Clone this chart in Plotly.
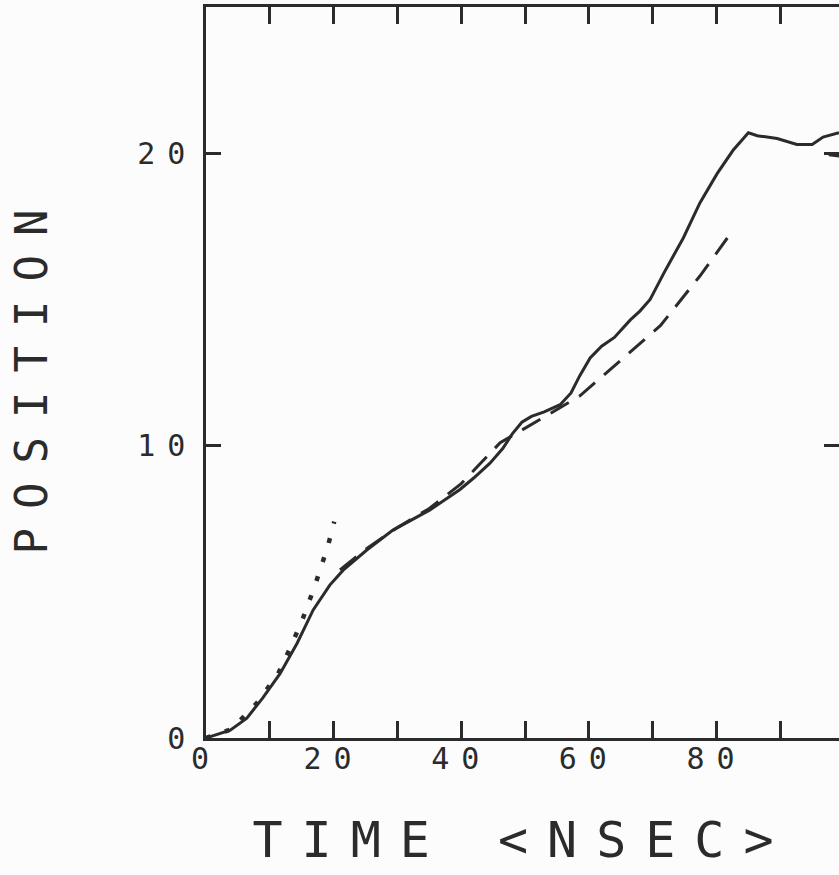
import plotly.graph_objects as go

# Solid curve (time in ns, position)
solid_t = [0, 3.8, 6.4, 8.9, 11.6, 14.3, 16.8, 19.4, 21.5, 25.2, 29.3, 35.1, 39.8, 42.0,
           44.5, 46.5, 48.0, 49.5, 51.0, 53.0, 55.5, 57.2, 58.6, 60.2, 62.0, 64.0, 66.5,
           68.0, 69.6, 72.0, 74.8, 77.4, 80.1, 82.6, 85.0, 86.4, 89.5, 92.6, 95.0, 96.7, 99.2]
solid_y = [0, 0.27, 0.68, 1.37, 2.2, 3.25, 4.38, 5.23, 5.74, 6.43, 7.11, 7.8, 8.5, 8.9,
           9.4, 9.9, 10.4, 10.8, 11.0, 11.15, 11.4, 11.8, 12.4, 13.0, 13.4, 13.7, 14.3,
           14.6, 15.0, 16.0, 17.1, 18.3, 19.3, 20.1, 20.7, 20.6, 20.5, 20.3, 20.3, 20.55, 20.7]

# Dotted curve
dot_t = [0, 4.0, 8.0, 11.3, 13.2, 15.2, 17.1, 18.2, 19.1, 20.1]
dot_y = [0, 0.3, 1.2, 2.2, 3.08, 4.1, 5.23, 5.9, 6.56, 7.4]

# Dashed curve
dash_t = [21.0, 25.0, 30.0, 35.0, 40.0, 46.1, 52.4, 58.6, 64.9, 71.2, 77.4, 81.7]
dash_y = [5.75, 6.45, 7.2, 7.85, 8.7, 10.1, 10.9, 11.7, 12.9, 14.1, 15.8, 17.1]

# Start of a second dashed curve at the right edge
dash2_t = [97.6, 99.3]
dash2_y = [19.95, 19.9]

x_tickvals = [0, 10, 20, 30, 40, 50, 60, 70, 80, 90]
x_ticktext = ["0", "", "20", "", "40", "", "60", "", "80", ""]
y_tickvals = [0, 10, 20]
y_ticktext = ["0", "10", "20"]

INK = "#2b2b2b"
FONT = "DejaVu Sans Mono"


def spaced(s, px):
    return f'<span style="letter-spacing:{px}px">{s}</span>' if s else ""


fig = go.Figure()
fig.add_trace(go.Scatter(x=solid_t, y=solid_y, mode="lines",
                         line=dict(color=INK, width=3), showlegend=False))
fig.add_trace(go.Scatter(x=dot_t, y=dot_y, mode="lines",
                         line=dict(color=INK, width=4.5, dash="5px,15px"), showlegend=False))
fig.add_trace(go.Scatter(x=dash_t, y=dash_y, mode="lines",
                         line=dict(color=INK, width=3, dash="21px,12px"), showlegend=False))
fig.add_trace(go.Scatter(x=dash2_t, y=dash2_y, mode="lines", yaxis="y2",
                         line=dict(color=INK, width=3, dash="21px,12px"), showlegend=False))

fig.update_layout(
    width=839, height=875,
    margin=dict(l=206, r=0, t=7, b=137),
    paper_bgcolor="#fcfcfc", plot_bgcolor="#fcfcfc",
    font=dict(family=FONT, color=INK),
    xaxis=dict(
        range=[0, 99.2], showgrid=False, zeroline=False,
        showline=True, linecolor=INK, linewidth=2.5, mirror="ticks",
        ticks="inside", ticklen=17, tickwidth=2.5, tickcolor=INK,
        tickvals=x_tickvals, ticktext=[spaced(t, 12) for t in x_ticktext],
        tickfont=dict(size=30, family=FONT, color=INK),
        ticklabelstandoff=-8,
        title=dict(text=spaced("TIME &lt;NSEC&gt;", 19),
                   font=dict(size=50, family=FONT, color=INK), standoff=48),
    ),
    yaxis=dict(
        range=[0, 25], showgrid=False, zeroline=False,
        showline=True, linecolor=INK, linewidth=2.5, mirror=False,
        ticks="inside", ticklen=15, tickwidth=2.5, tickcolor=INK,
        tickvals=y_tickvals, ticktext=[spaced(t, 12) for t in y_ticktext],
        tickfont=dict(size=30, family=FONT, color=INK),
        title=dict(text=spaced("POSITION", 19),
                   font=dict(size=44, family=FONT, color=INK), standoff=76),
    ),
    yaxis2=dict(
        overlaying="y", side="right", anchor="x", range=[0, 25],
        showgrid=False, zeroline=False, showline=False,
        ticks="inside", ticklen=15, tickwidth=2.5, tickcolor=INK,
        tickvals=[10, 20], showticklabels=False,
    ),
)

fig.write_html("out.html")
